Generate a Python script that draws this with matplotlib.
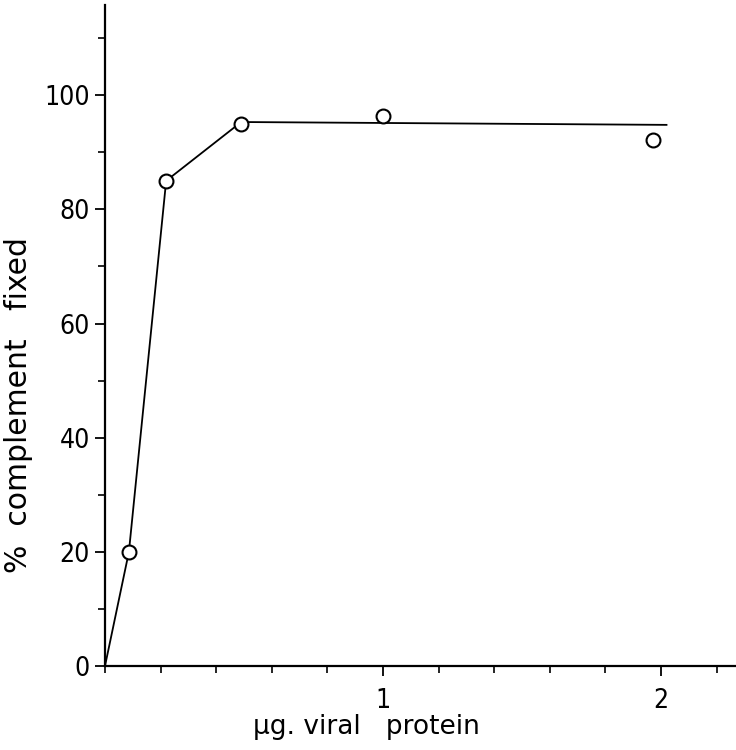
import matplotlib
matplotlib.use("Agg")
import matplotlib.pyplot as plt
from matplotlib.ticker import MultipleLocator

# 数据
line_x = [0, 0.086, 0.22, 0.49, 2.02]
line_y = [0, 20, 85, 95.3, 94.8]
point_x = [0.086, 0.22, 0.49, 1.0, 1.97]
point_y = [20, 85, 95, 96.3, 92.2]
x_ticks = [1, 2]
x_tick_labels = ["1", "2"]
y_ticks = [0, 20, 40, 60, 80, 100]

plt.rcParams['font.family'] = ['DejaVu Sans']

fig = plt.figure(figsize=(7.36, 7.5), dpi=100)
ax = fig.add_axes([105 / 736, 84 / 750, 631 / 736, 661 / 750])

ax.plot(line_x, line_y, color="black", lw=1.3, zorder=2)
ax.plot(point_x, point_y, "o", ms=10, mfc="white", mec="black", mew=1.5, zorder=3)

ax.set_xlim(0, 2.27)
ax.set_ylim(0, 115.8)

for s in ["top", "right"]:
    ax.spines[s].set_visible(False)
for s in ["left", "bottom"]:
    ax.spines[s].set_linewidth(1.6)

ax.set_xticks(x_ticks)
ax.set_xticklabels(x_tick_labels)
ax.set_yticks(y_ticks)
ax.xaxis.set_minor_locator(MultipleLocator(0.2))
ax.yaxis.set_minor_locator(MultipleLocator(10))
ax.tick_params(which="major", length=7, width=1.3, labelsize=19, pad=4)
ax.tick_params(which="minor", length=5, width=1.2)
ax.tick_params(axis="x", which="major", pad=9)
for lab in ax.get_xticklabels() + ax.get_yticklabels():
    lab.set_fontstretch("condensed")

# 轴标题
fig.text(366 / 736, 1 - 727 / 750, "µg. viral   protein", fontsize=19,
         ha="center", va="center")
fig.text(19 / 736, 1 - 405 / 750, "%  complement   fixed", fontsize=21.5,
         rotation=90, ha="center", va="center")

fig.savefig("out.png", dpi=100)
